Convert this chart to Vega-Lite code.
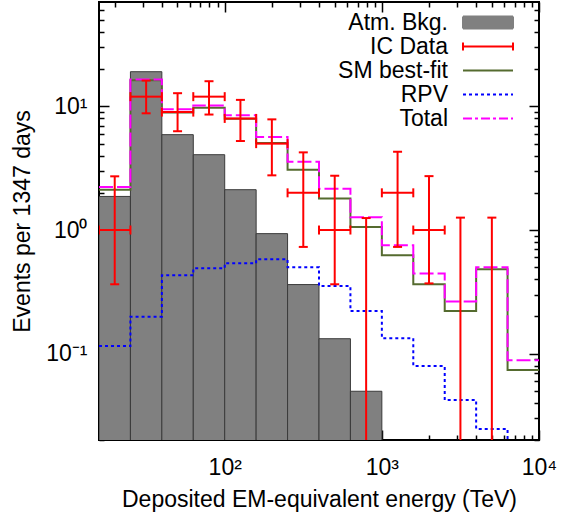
{
  "$schema": "https://vega.github.io/schema/vega-lite/v6.json",
  "width": 440,
  "height": 438,
  "autosize": "none",
  "padding": {"left": 99, "top": 2, "right": 32, "bottom": 77},
  "background": "white",
  "config": {
    "font": "Liberation Sans",
    "view": {"stroke": "black", "strokeWidth": 2},
    "axis": {"domain": false, "grid": false, "tickColor": "black", "tickWidth": 1.5, "labelColor": "black", "titleColor": "black", "labelFont": "Liberation Sans", "titleFont": "Liberation Sans", "titleFontWeight": "normal", "labelFlush": false, "labelOverlap": false}
  },
  "datasets": {
    "bins": [
      {"lo": 15.849, "hi": 25.119, "bkg": 1.87},
      {"lo": 25.119, "hi": 39.811, "bkg": 19.1},
      {"lo": 39.811, "hi": 63.096, "bkg": 5.91},
      {"lo": 63.096, "hi": 100, "bkg": 4.07},
      {"lo": 100, "hi": 158.49, "bkg": 2.12},
      {"lo": 158.49, "hi": 251.19, "bkg": 0.935},
      {"lo": 251.19, "hi": 398.11, "bkg": 0.362},
      {"lo": 398.11, "hi": 630.96, "bkg": 0.132},
      {"lo": 630.96, "hi": 1000, "bkg": 0.0496}
    ],
    "curves": [
      {"s": "SM best-fit", "E": 15.849, "v": 2.12},
      {"s": "SM best-fit", "E": 25.119, "v": 16.3},
      {"s": "SM best-fit", "E": 39.811, "v": 8.95},
      {"s": "SM best-fit", "E": 63.096, "v": 9.77},
      {"s": "SM best-fit", "E": 100, "v": 7.96},
      {"s": "SM best-fit", "E": 158.49, "v": 5.05},
      {"s": "SM best-fit", "E": 251.19, "v": 3.08},
      {"s": "SM best-fit", "E": 398.11, "v": 1.8},
      {"s": "SM best-fit", "E": 630.96, "v": 1.06},
      {"s": "SM best-fit", "E": 1000, "v": 0.624},
      {"s": "SM best-fit", "E": 1584.9, "v": 0.364},
      {"s": "SM best-fit", "E": 2511.9, "v": 0.221},
      {"s": "SM best-fit", "E": 3981.1, "v": 0.481},
      {"s": "SM best-fit", "E": 6309.6, "v": 0.0738},
      {"s": "SM best-fit", "E": 10000, "v": 0.0738},
      {"s": "RPV", "E": 15.849, "v": 0.115},
      {"s": "RPV", "E": 25.119, "v": 0.199},
      {"s": "RPV", "E": 39.811, "v": 0.43},
      {"s": "RPV", "E": 63.096, "v": 0.49},
      {"s": "RPV", "E": 100, "v": 0.538},
      {"s": "RPV", "E": 158.49, "v": 0.579},
      {"s": "RPV", "E": 251.19, "v": 0.499},
      {"s": "RPV", "E": 398.11, "v": 0.352},
      {"s": "RPV", "E": 630.96, "v": 0.221},
      {"s": "RPV", "E": 1000, "v": 0.133},
      {"s": "RPV", "E": 1584.9, "v": 0.0794},
      {"s": "RPV", "E": 2511.9, "v": 0.0422},
      {"s": "RPV", "E": 3981.1, "v": 0.0246},
      {"s": "RPV", "E": 6309.6, "v": 0.01},
      {"s": "RPV", "E": 10000, "v": 0.01},
      {"s": "Total", "E": 15.849, "v": 2.23},
      {"s": "Total", "E": 25.119, "v": 16.5},
      {"s": "Total", "E": 39.811, "v": 9.47},
      {"s": "Total", "E": 63.096, "v": 10.2},
      {"s": "Total", "E": 100, "v": 8.47},
      {"s": "Total", "E": 158.49, "v": 5.65},
      {"s": "Total", "E": 251.19, "v": 3.57},
      {"s": "Total", "E": 398.11, "v": 2.16},
      {"s": "Total", "E": 630.96, "v": 1.27},
      {"s": "Total", "E": 1000, "v": 0.752},
      {"s": "Total", "E": 1584.9, "v": 0.444},
      {"s": "Total", "E": 2511.9, "v": 0.264},
      {"s": "Total", "E": 3981.1, "v": 0.499},
      {"s": "Total", "E": 6309.6, "v": 0.0883},
      {"s": "Total", "E": 10000, "v": 0.0883}
    ],
    "ic": [
      {"c": 19.953, "lo": 15.849, "hi": 25.119, "n": 1, "elo": 0.364, "ehi": 2.72},
      {"c": 31.623, "lo": 25.119, "hi": 39.811, "n": 12, "elo": 8.8, "ehi": 16.2},
      {"c": 50.119, "lo": 39.811, "hi": 63.096, "n": 9, "elo": 6.3, "ehi": 12.8},
      {"c": 79.433, "lo": 63.096, "hi": 100, "n": 12, "elo": 8.6, "ehi": 16.0},
      {"c": 125.89, "lo": 100, "hi": 158.49, "n": 8, "elo": 5.25, "ehi": 11.3},
      {"c": 199.53, "lo": 158.49, "hi": 251.19, "n": 5, "elo": 2.77, "ehi": 7.86},
      {"c": 316.23, "lo": 251.19, "hi": 398.11, "n": 2, "elo": 0.73, "ehi": 4.25},
      {"c": 501.19, "lo": 398.11, "hi": 630.96, "n": 1, "elo": 0.364, "ehi": 2.75},
      {"c": 794.33, "lo": 630.96, "hi": 1000, "n": null, "elo": 0.001, "ehi": 1.25},
      {"c": 1258.9, "lo": 1000, "hi": 1584.9, "n": 2, "elo": 0.73, "ehi": 4.3},
      {"c": 1995.3, "lo": 1584.9, "hi": 2511.9, "n": 1, "elo": 0.37, "ehi": 2.73},
      {"c": 3162.3, "lo": 2511.9, "hi": 3981.1, "n": null, "elo": 0.001, "ehi": 1.26},
      {"c": 5011.9, "lo": 3981.1, "hi": 6309.6, "n": null, "elo": 0.001, "ehi": 1.26}
    ]
  },
  "resolve": {"axis": {"x": "independent", "y": "independent"}},
  "layer": [
    {
      "data": {"name": "bins"},
      "mark": {"type": "rect", "stroke": "#3a3a3a", "strokeWidth": 1, "clip": true},
      "encoding": {
        "x": {"field": "lo", "type": "quantitative", "scale": {"type": "log", "domain": [15.849, 10000], "nice": false},
          "axis": {"orient": "bottom", "values": [100, 1000, 10000], "tickSize": -10, "labelExpr": "['10⁻²','10⁻¹','10⁰','10¹','10²','10³','10⁴'][round(log(datum.value)/LN10)+2]", "labelFontSize": 23, "labelPadding": 26, "title": "Deposited EM-equivalent energy (TeV)", "titleFontSize": 23, "titlePadding": 9}},
        "x2": {"field": "hi"},
        "y": {"field": "bkg", "type": "quantitative", "scale": {"type": "log", "domain": [0.02, 70], "nice": false},
          "axis": {"orient": "left", "values": [0.1, 1, 10], "tickSize": -10, "labelExpr": "['10⁻²','10⁻¹','10⁰','10¹','10²','10³','10⁴'][round(log(datum.value)/LN10)+2]", "labelFontSize": 23, "labelPadding": 22, "title": "Events per 1347 days", "titleFontSize": 23, "titlePadding": 11}},
        "y2": {"datum": 0.001},
        "color": {"datum": "Atm. Bkg.", "type": "nominal",
          "scale": {"domain": ["Atm. Bkg.", "IC Data", "SM best-fit", "RPV", "Total"], "range": ["#808080", "#ff0000", "#556b2f", "#0000ff", "#ff00ff"]},
          "legend": {
            "orient": "none", "legendX": 349, "legendY": 9, "title": null,
            "labelFontSize": 23, "labelFont": "Liberation Sans", "labelColor": "black", "labelLimit": 300,
            "symbolSize": 100, "rowPadding": -2, "padding": 0,
            "encode": {
              "symbols": {"update": {
                "shape": {"signal": "datum.value === 'Atm. Bkg.' ? 'M-1,-0.24H1V0.24H-1Z' : datum.value === 'IC Data' ? 'M-1,0H1M-1,-0.16V0.16M1,-0.16V0.16' : 'stroke'"},
                "size": {"value": 2500},
                "x": {"value": 40},
                "y": {"value": 11.5},
                "fill": {"signal": "datum.value === 'Atm. Bkg.' ? '#808080' : 'transparent'"},
                "stroke": {"signal": "{'Atm. Bkg.': 'transparent', 'IC Data': '#ff0000', 'SM best-fit': '#556b2f', 'RPV': '#0000ff', 'Total': '#ff00ff'}[datum.value]"},
                "strokeDash": {"signal": "datum.value === 'RPV' ? [3,3] : datum.value === 'Total' ? [9,3,3,3] : [1,0]"},
                "strokeWidth": {"value": 2},
                "opacity": {"value": 1}
              }},
              "labels": {"update": {"x": {"value": 0}, "y": {"value": 11.5}, "align": {"value": "right"}}}
            }
          }
        }
      }
    },
    {
      "data": {"name": "curves"},
      "transform": [{"filter": "datum.s === 'SM best-fit'"}],
      "mark": {"type": "line", "interpolate": "step-after", "strokeWidth": 2, "clip": true},
      "encoding": {
        "x": {"field": "E", "type": "quantitative", "scale": {"type": "log", "domain": [15.849, 10000], "nice": false},
          "axis": {"orient": "bottom", "values": [20,30,40,50,60,70,80,90,200,300,400,500,600,700,800,900,2000,3000,4000,5000,6000,7000,8000,9000], "tickSize": -5, "labels": false, "title": null}},
        "y": {"field": "v", "type": "quantitative", "scale": {"type": "log", "domain": [0.02, 70], "nice": false},
          "axis": {"orient": "left", "values": [0.02,0.03,0.04,0.05,0.06,0.07,0.08,0.09,0.2,0.3,0.4,0.5,0.6,0.7,0.8,0.9,2,3,4,5,6,7,8,9,20,30,40,50,60], "tickSize": -5, "labels": false, "title": null}},
        "color": {"datum": "SM best-fit", "type": "nominal",
          "legend": {
            "orient": "none", "legendX": 349, "legendY": 9, "title": null,
            "labelFontSize": 23, "labelFont": "Liberation Sans", "labelColor": "black", "labelLimit": 300,
            "symbolSize": 100, "rowPadding": -2, "padding": 0,
            "encode": {
              "symbols": {"update": {
                "shape": {"signal": "datum.value === 'Atm. Bkg.' ? 'M-1,-0.24H1V0.24H-1Z' : datum.value === 'IC Data' ? 'M-1,0H1M-1,-0.16V0.16M1,-0.16V0.16' : 'stroke'"},
                "size": {"value": 2500},
                "x": {"value": 40},
                "y": {"value": 11.5},
                "fill": {"signal": "datum.value === 'Atm. Bkg.' ? '#808080' : 'transparent'"},
                "stroke": {"signal": "{'Atm. Bkg.': 'transparent', 'IC Data': '#ff0000', 'SM best-fit': '#556b2f', 'RPV': '#0000ff', 'Total': '#ff00ff'}[datum.value]"},
                "strokeDash": {"signal": "datum.value === 'RPV' ? [3,3] : datum.value === 'Total' ? [9,3,3,3] : [1,0]"},
                "strokeWidth": {"value": 2},
                "opacity": {"value": 1}
              }},
              "labels": {"update": {"x": {"value": 0}, "y": {"value": 11.5}, "align": {"value": "right"}}}
            }
          }
        }
      }
    },
    {
      "data": {"name": "curves"},
      "transform": [{"filter": "datum.s === 'RPV'"}],
      "mark": {"type": "line", "interpolate": "step-after", "strokeWidth": 2, "strokeDash": [3, 3], "clip": true},
      "encoding": {
        "x": {"field": "E", "type": "quantitative", "scale": {"type": "log", "domain": [15.849, 10000], "nice": false},
          "axis": {"orient": "top", "values": [100, 1000, 10000], "tickSize": -10, "labels": false, "title": null}},
        "y": {"field": "v", "type": "quantitative", "scale": {"type": "log", "domain": [0.02, 70], "nice": false},
          "axis": {"orient": "right", "values": [0.1, 1, 10], "tickSize": -10, "labels": false, "title": null}},
        "color": {"datum": "RPV", "type": "nominal",
          "legend": {
            "orient": "none", "legendX": 349, "legendY": 9, "title": null,
            "labelFontSize": 23, "labelFont": "Liberation Sans", "labelColor": "black", "labelLimit": 300,
            "symbolSize": 100, "rowPadding": -2, "padding": 0,
            "encode": {
              "symbols": {"update": {
                "shape": {"signal": "datum.value === 'Atm. Bkg.' ? 'M-1,-0.24H1V0.24H-1Z' : datum.value === 'IC Data' ? 'M-1,0H1M-1,-0.16V0.16M1,-0.16V0.16' : 'stroke'"},
                "size": {"value": 2500},
                "x": {"value": 40},
                "y": {"value": 11.5},
                "fill": {"signal": "datum.value === 'Atm. Bkg.' ? '#808080' : 'transparent'"},
                "stroke": {"signal": "{'Atm. Bkg.': 'transparent', 'IC Data': '#ff0000', 'SM best-fit': '#556b2f', 'RPV': '#0000ff', 'Total': '#ff00ff'}[datum.value]"},
                "strokeDash": {"signal": "datum.value === 'RPV' ? [3,3] : datum.value === 'Total' ? [9,3,3,3] : [1,0]"},
                "strokeWidth": {"value": 2},
                "opacity": {"value": 1}
              }},
              "labels": {"update": {"x": {"value": 0}, "y": {"value": 11.5}, "align": {"value": "right"}}}
            }
          }
        }
      }
    },
    {
      "data": {"name": "curves"},
      "transform": [{"filter": "datum.s === 'Total'"}],
      "mark": {"type": "line", "interpolate": "step-after", "strokeWidth": 2, "strokeDash": [14, 4], "clip": true},
      "encoding": {
        "x": {"field": "E", "type": "quantitative", "scale": {"type": "log", "domain": [15.849, 10000], "nice": false},
          "axis": {"orient": "top", "values": [20,30,40,50,60,70,80,90,200,300,400,500,600,700,800,900,2000,3000,4000,5000,6000,7000,8000,9000], "tickSize": -5, "labels": false, "title": null}},
        "y": {"field": "v", "type": "quantitative", "scale": {"type": "log", "domain": [0.02, 70], "nice": false},
          "axis": {"orient": "right", "values": [0.02,0.03,0.04,0.05,0.06,0.07,0.08,0.09,0.2,0.3,0.4,0.5,0.6,0.7,0.8,0.9,2,3,4,5,6,7,8,9,20,30,40,50,60], "tickSize": -5, "labels": false, "title": null}},
        "color": {"datum": "Total", "type": "nominal",
          "legend": {
            "orient": "none", "legendX": 349, "legendY": 9, "title": null,
            "labelFontSize": 23, "labelFont": "Liberation Sans", "labelColor": "black", "labelLimit": 300,
            "symbolSize": 100, "rowPadding": -2, "padding": 0,
            "encode": {
              "symbols": {"update": {
                "shape": {"signal": "datum.value === 'Atm. Bkg.' ? 'M-1,-0.24H1V0.24H-1Z' : datum.value === 'IC Data' ? 'M-1,0H1M-1,-0.16V0.16M1,-0.16V0.16' : 'stroke'"},
                "size": {"value": 2500},
                "x": {"value": 40},
                "y": {"value": 11.5},
                "fill": {"signal": "datum.value === 'Atm. Bkg.' ? '#808080' : 'transparent'"},
                "stroke": {"signal": "{'Atm. Bkg.': 'transparent', 'IC Data': '#ff0000', 'SM best-fit': '#556b2f', 'RPV': '#0000ff', 'Total': '#ff00ff'}[datum.value]"},
                "strokeDash": {"signal": "datum.value === 'RPV' ? [3,3] : datum.value === 'Total' ? [9,3,3,3] : [1,0]"},
                "strokeWidth": {"value": 2},
                "opacity": {"value": 1}
              }},
              "labels": {"update": {"x": {"value": 0}, "y": {"value": 11.5}, "align": {"value": "right"}}}
            }
          }
        }
      }
    },
    {
      "data": {"name": "ic"},
      "mark": {"type": "rule", "strokeWidth": 2, "clip": true},
      "encoding": {
        "x": {"field": "c", "type": "quantitative", "axis": null},
        "y": {"field": "elo", "type": "quantitative", "axis": null},
        "y2": {"field": "ehi"},
        "color": {"datum": "IC Data", "type": "nominal",
          "legend": {
            "orient": "none", "legendX": 349, "legendY": 9, "title": null,
            "labelFontSize": 23, "labelFont": "Liberation Sans", "labelColor": "black", "labelLimit": 300,
            "symbolSize": 100, "rowPadding": -2, "padding": 0,
            "encode": {
              "symbols": {"update": {
                "shape": {"signal": "datum.value === 'Atm. Bkg.' ? 'M-1,-0.24H1V0.24H-1Z' : datum.value === 'IC Data' ? 'M-1,0H1M-1,-0.16V0.16M1,-0.16V0.16' : 'stroke'"},
                "size": {"value": 2500},
                "x": {"value": 40},
                "y": {"value": 11.5},
                "fill": {"signal": "datum.value === 'Atm. Bkg.' ? '#808080' : 'transparent'"},
                "stroke": {"signal": "{'Atm. Bkg.': 'transparent', 'IC Data': '#ff0000', 'SM best-fit': '#556b2f', 'RPV': '#0000ff', 'Total': '#ff00ff'}[datum.value]"},
                "strokeDash": {"signal": "datum.value === 'RPV' ? [3,3] : datum.value === 'Total' ? [9,3,3,3] : [1,0]"},
                "strokeWidth": {"value": 2},
                "opacity": {"value": 1}
              }},
              "labels": {"update": {"x": {"value": 0}, "y": {"value": 11.5}, "align": {"value": "right"}}}
            }
          }
        }
      }
    },
    {
      "data": {"name": "ic"},
      "transform": [{"filter": "isValid(datum.n)"}],
      "mark": {"type": "rule", "strokeWidth": 2, "color": "#ff0000", "clip": true},
      "encoding": {
        "x": {"field": "lo", "type": "quantitative", "axis": null},
        "x2": {"field": "hi"},
        "y": {"field": "n", "type": "quantitative", "axis": null}
      }
    },
    {
      "data": {"name": "ic"},
      "mark": {"type": "tick", "orient": "horizontal", "size": 9, "thickness": 2, "color": "#ff0000", "opacity": 1, "clip": true},
      "encoding": {
        "x": {"field": "c", "type": "quantitative", "axis": null},
        "y": {"field": "ehi", "type": "quantitative", "axis": null}
      }
    },
    {
      "data": {"name": "ic"},
      "transform": [{"filter": "isValid(datum.n)"}],
      "mark": {"type": "tick", "orient": "horizontal", "size": 9, "thickness": 2, "color": "#ff0000", "opacity": 1, "clip": true},
      "encoding": {
        "x": {"field": "c", "type": "quantitative", "axis": null},
        "y": {"field": "elo", "type": "quantitative", "axis": null}
      }
    },
    {
      "data": {"name": "ic"},
      "transform": [{"filter": "isValid(datum.n)"}],
      "mark": {"type": "tick", "orient": "vertical", "size": 9, "thickness": 2, "color": "#ff0000", "opacity": 1, "clip": true},
      "encoding": {
        "x": {"field": "lo", "type": "quantitative", "axis": null},
        "y": {"field": "n", "type": "quantitative", "axis": null}
      }
    },
    {
      "data": {"name": "ic"},
      "transform": [{"filter": "isValid(datum.n)"}],
      "mark": {"type": "tick", "orient": "vertical", "size": 9, "thickness": 2, "color": "#ff0000", "opacity": 1, "clip": true},
      "encoding": {
        "x": {"field": "hi", "type": "quantitative", "axis": null},
        "y": {"field": "n", "type": "quantitative", "axis": null}
      }
    }
  ]
}
